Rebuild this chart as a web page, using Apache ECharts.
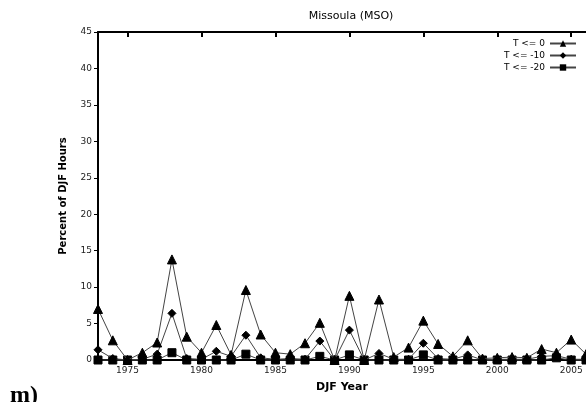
<!DOCTYPE html>
<html><head><meta charset="utf-8">
<script src="https://cdn.jsdelivr.net/npm/echarts@6/dist/echarts.min.js"></script>
<style>html,body{margin:0;padding:0;background:#fff}#c{width:586px;height:402px}</style>
</head><body><div id="c"></div>
<script>
const years = [1973,1974,1975,1976,1977,1978,1979,1980,1981,1982,1983,1984,1985,1986,1987,1988,1989,1990,1991,1992,1993,1994,1995,1996,1997,1998,1999,2000,2001,2002,2003,2004,2005,2006];
const t0   = [7.0,2.7,0.0,1.0,2.4,13.8,3.2,1.0,4.8,0.7,9.6,3.5,1.0,0.8,2.3,5.1,0.0,8.8,0.0,8.3,0.4,1.7,5.4,2.2,0.5,2.7,0.2,0.3,0.4,0.3,1.5,1.0,2.8,0.8];
const t10  = [1.4,0.2,0.0,0.1,0.8,6.4,0.2,0.1,1.2,0.5,3.4,0.3,0.1,0.2,0.1,2.6,0.0,4.1,0.0,0.9,0.1,0.1,2.3,0.2,0.1,0.7,0.0,0.1,0.1,0.1,0.5,0.6,0.1,0.1];
const t20  = [0.0,0.0,0.0,0.0,0.0,1.0,0.0,0.0,0.0,0.0,0.8,0.0,0.0,0.0,0.0,0.5,0.0,0.7,0.0,0.0,0.0,0.0,0.7,0.0,0.0,0.0,0.0,0.0,0.0,0.0,0.0,0.3,0.0,0.0];
const seriesNames = ['T <= 0','T <= -10','T <= -20'];
const symbols = ['triangle','diamond','rect'];
const symSizes = [9,8,8];
const xTicks = [1975,1980,1985,1990,1995,2000,2005];

const chart = echarts.init(document.getElementById('c'));
const data = [t0,t10,t20];
chart.setOption({
  animation:false,
  backgroundColor:'#fff',
  title:{text:'Missoula (MSO)',left:346,top:6,textAlign:'center',
    textStyle:{fontFamily:'DejaVu Sans',fontSize:11,fontWeight:'normal',color:'#000'}},
  legend:{orient:'vertical',right:4,top:34,align:'right',itemWidth:26,itemHeight:8,itemGap:3,
    data:seriesNames,
    textStyle:{fontFamily:'DejaVu Sans',fontSize:9,color:'#000'}},
  grid:{left:98,top:32,width:495,bottom:42,containLabel:false},
  xAxis:[{type:'value',min:1973,max:2006,interval:5,
      name:'DJF Year',nameLocation:'middle',nameGap:22,
      nameTextStyle:{fontFamily:'DejaVu Sans',fontSize:11,fontWeight:'bold',color:'#000'},
      axisLine:{lineStyle:{color:'#000',width:2}},
      axisTick:{show:false},
      axisLabel:{fontFamily:'DejaVu Sans',fontSize:9,color:'#222',margin:6,
        customValues:xTicks,formatter:v=>String(v)},
      splitLine:{show:false}},
    {type:'value',position:'top',min:1973,max:2006,
      axisLine:{show:true,lineStyle:{color:'#000',width:2}},
      axisTick:{show:true,inside:true,length:5,lineStyle:{color:'#000',width:2},
        customValues:xTicks},
      axisLabel:{show:false},splitLine:{show:false}}],
  yAxis:{type:'value',min:0,max:45,interval:5,
    name:'Percent of DJF Hours',nameLocation:'middle',nameGap:30,
    nameTextStyle:{fontFamily:'DejaVu Sans',fontSize:10,fontWeight:'bold',color:'#000'},
    axisLine:{show:true,lineStyle:{color:'#000',width:2}},
    axisTick:{show:true,length:4,lineStyle:{color:'#000'}},
    axisLabel:{fontFamily:'DejaVu Sans',fontSize:9,color:'#222',margin:6},
    splitLine:{show:false}},
  series:data.map((d,i)=>({
    name:seriesNames[i],type:'line',xAxisIndex:0,
    data:years.map((y,j)=>[y,d[j]]),
    symbol:symbols[i],symbolSize:symSizes[i],showAllSymbol:true,clip:false,
    lineStyle:{color:'#444',width:1},
    itemStyle:{color:'#000',borderColor:'#000'},
    z:3-i
  })),
  graphic:[{type:'text',left:10,top:384,
    style:{text:'m)',font:'bold 24px "Liberation Serif"',fill:'#000'}}]
});
</script></body></html>
